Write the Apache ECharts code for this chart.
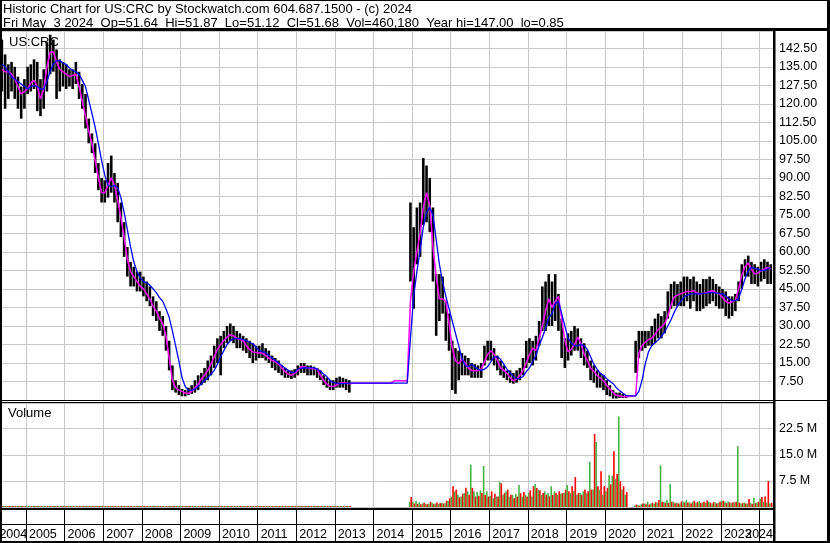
<!DOCTYPE html>
<html>
<head>
<meta charset="utf-8">
<title>Historic Chart for US:CRC</title>
<script src="https://cdn.jsdelivr.net/npm/echarts@6/dist/echarts.min.js"></script>
<style>
  html, body { margin: 0; padding: 0; background: #fff; overflow: hidden; }
  /* the chart canvas starts 20px left of the window so Jan 2004 can sit just off screen */
  #chart { position: absolute; left: -20px; top: 0; width: 850px; height: 543px; }
</style>
</head>
<body>
<div id="chart"></div>
<script>
// monthly figures, May 2004 .. Apr 2024 (one row per year)
const priceLow = [
  125, 118, 122, 125, 122, 118, 114, 118,
  124, 125, 126, 117, 115, 118, 125, 132, 133, 122, 125, 127,
  126, 127, 126, 128, 122, 118, 110, 104, 100, 92, 85, 80,
  80, 82, 84, 80, 72, 66, 58, 50, 46, 46, 44, 44,
  42, 40, 38, 34, 32, 28, 26, 20, 12, 4, 3, 2,
  1.5, 1.5, 2, 2.5, 3, 4, 6, 7, 8, 10, 13, 15,
  10, 21, 23, 24, 23, 21, 21, 20, 19, 17, 15, 16,
  17, 17, 16, 15, 13, 12, 11, 10, 9, 9, 8.5, 9,
  10, 11, 11, 10, 10, 10, 9, 8, 6, 5, 4, 4,
  5, 5, 5, 4, 3, null, null, null, null, null, null, null,
  null, null, null, null, null, null, null, null, null, null, null, 48,
  37, 55, 58, 71, 72, 68, 48, 26, 32, 35, 24, 20,
  4, 2.5, 8, 10, 10, 10, 9, 9, 9, 9, 14, 16,
  16, 14, 12, 10, 9, 8, 7, 6.6, 7, 8, 10, 13,
  15, 14, 16, 22, 28, 28, 30, 30, 32, 28, 17, 13,
  16, 18, 20, 20, 17, 14, 13, 8, 7, 5, 5, 4,
  2, 1.5, 0.6, 0.6, 0.8, 0.8, 0.8, null, null, 11, 17, 20,
  21, 22, 22, 23, 25, 25, 27, 33, 37, 38, 38, 38,
  38, 40, 37, 40, 36, 36, 37, 38, 39, 40, 38, 37,
  37, 34, 33, 34, 36, 40, 45, 50, 50, 47, 47, 46,
  48, 49, 47, 47
];
const priceHigh = [
  146, 140, 136, 137, 135, 131, 127, 130,
  135, 136, 138, 137, 130, 134, 145, 148, 146, 142, 138, 137,
  136, 134, 134, 137, 133, 128, 124, 114, 108, 104, 96, 90,
  89, 96, 99, 92, 88, 80, 72, 62, 56, 54, 52, 52,
  50, 48, 46, 42, 40, 36, 34, 30, 24, 14, 8, 6,
  4.5, 4, 5, 6, 8, 10, 11, 13, 16, 18, 22, 25,
  26, 28, 30, 31, 30, 28, 27, 26, 25, 24, 23, 22,
  22, 23, 21, 20, 18, 17, 16, 14, 13, 12, 12, 12.5,
  14, 15, 15, 14, 14, 13.5, 13, 12, 10, 9, 8, 8,
  9, 9.5, 9, 8.5, 8, null, null, null, null, null, null, null,
  null, null, null, null, null, null, null, null, null, null, null, 80,
  70, 78, 80, 98, 95, 90, 78, 51, 51, 50, 40, 35,
  24, 21, 20, 19, 18, 17, 15, 14.5, 14, 15, 22, 24,
  24, 21, 18, 16, 14, 12, 12, 11, 12, 13, 17, 24,
  25, 24, 26, 32, 46, 48, 51, 48, 51, 43, 33, 25,
  27, 28, 30, 29, 25, 23, 20, 16, 14, 12, 11, 10,
  8, 6, 4, 3, 3, 2.5, 2, null, null, 24, 28, 28,
  28, 28, 30, 33, 35, 34, 36, 44, 47, 48, 47, 48,
  50, 50, 49, 50, 48, 47, 49, 49, 50, 49, 47, 46,
  45, 44, 42, 42, 43, 48, 55, 57, 58.5, 56, 55, 54,
  56, 57, 56, 55
];
// short (magenta) and long (blue) moving averages as drawn
const maFast = [
  134, 133, 133, 132, 130, 127, 124, 125,
  126, 128.5, 129.5, 127, 122, 126, 135, 141, 141, 137, 134, 133,
  132, 131, 131.5, 132, 127, 121, 115, 109, 104, 97, 90, 84,
  84, 87, 90, 87, 81, 74, 66, 57, 52, 50, 48, 46,
  45, 43, 41, 38, 36, 33, 31, 26, 17, 8, 5, 4,
  3.5, 2.8, 2.6, 3.5, 5, 6.5, 8.5, 10, 12, 14.5, 17.5, 20.5,
  22.5, 24, 25.5, 26.5, 26, 25, 24.5, 24, 22, 20.5, 19.5, 19.2,
  19, 19, 18, 17, 16, 15.5, 14.5, 13, 11.5, 10.5, 10, 10.8,
  12, 13.5, 13.5, 13, 12.7, 12.7, 12.5, 10, 8, 6.5, 5.5, 5.5,
  6, 6.8, 7, 6.8, 6.6, 6.8, 6.8, 6.8, 6.8, 6.8, 6.8, 6.8,
  6.8, 6.8, 6.8, 6.8, 6.8, 6.8, 7.8, 7.8, 7.8, 7.8, 7.8, 40,
  52, 60, 67.5, 78, 84, 79, 62, 50, 41, 41, 40, 31,
  21, 16, 14.7, 16.5, 15, 13, 12, 11.9, 11.9, 12.5, 15.5, 18.5,
  20, 18.5, 16, 13, 12, 10.8, 9, 7.8, 8.5, 10, 12, 15,
  18.5, 21, 20, 25, 30, 36, 41, 37.5, 40, 42, 33, 24,
  19.5, 20.5, 22.5, 25.5, 23, 18.5, 16, 13, 11.5, 10, 8.8, 7.8,
  6, 4.5, 3, 1.9, 1.6, 1.4, 1.3, 1.4, 1.6, 1.7, 19, 22,
  23.5, 24.5, 25, 26.5, 28.5, 29.5, 31, 34, 38.5, 41.8, 42.5, 43,
  43.5, 44, 44, 44.3, 43.5, 43, 43.2, 43.5, 44, 44.3, 43.5, 43,
  41.5, 40, 39.3, 39.8, 40.5, 45, 50.5, 54, 55.5, 53, 51, 51.5,
  52.4, 53, 53.7, 53.2
];
const maSlow = [
  136, 135, 133, 131, 130, 129, 128, 127,
  126, 127, 127.5, 127, 126, 126, 129, 133, 136, 137.5, 137.5, 136.5,
  136, 134.5, 133.6, 133, 132, 129.5, 127, 121.5, 116, 110.5, 104, 97,
  91, 87, 86.5, 87, 86, 82, 76, 69, 62, 56, 52, 49.5,
  48, 47.5, 46.5, 45, 43.5, 41.5, 40, 37, 33.5, 28, 22, 16,
  9, 5.5, 3.8, 4, 4.5, 5.5, 6.5, 8, 9, 10.5, 12, 14.5,
  17.5, 20, 22.5, 24, 24.8, 25, 24.8, 24.5, 24, 23.5, 22.8, 21.5,
  20, 19.6, 19.2, 18, 17, 16, 15, 14, 13, 12, 11.2, 11.2,
  12.5, 12.8, 13, 13, 13, 13, 12.5, 11.8, 10.5, 9.5, 8, 7,
  6.8, 6.6, 6.6, 6.7, 6.8, 6.8, 6.8, 6.8, 6.8, 6.8, 6.8, 6.8,
  6.8, 6.8, 6.8, 6.8, 6.8, 6.8, 6.8, 6.8, 6.8, 6.8, 6.8, 25,
  42, 52, 60.5, 70, 76, 78, 75, 65, 55, 48, 42, 37,
  32, 27, 22, 17, 14, 13.5, 14.5, 13.5, 12.5, 12, 12.5, 13.5,
  15.5, 17.5, 17.5, 16.5, 14.5, 12.5, 11, 9.5, 8.6, 8.8, 9.5, 11.5,
  13, 15.5, 18, 22, 25.3, 29, 33.4, 35, 38.9, 40, 35, 30,
  25, 23, 22, 22, 22.5, 22, 20.5, 17.5, 14.5, 12.5, 10.8, 10,
  8.6, 7.6, 6.6, 5, 3.8, 2.8, 1.9, 1.7, 1.7, 1.7, 3.5, 8,
  14.7, 19.5, 22, 23.2, 24.3, 25.8, 27.5, 30, 32.5, 35.5, 38.2, 40,
  41.6, 42.5, 43, 43, 43, 43, 43.2, 43.3, 43.5, 43.5, 43.3, 43.2,
  43, 42, 41, 40.3, 40.3, 41, 45, 49, 52.5, 53.7, 53.3, 53,
  52.5, 52.4, 53, 53.7
];
// volume in millions: up-day (green) and down-day (red) bars
const volGreen = [
  0.3, 0.3, 0.3, 0.3, 0.3, 0.3, 0.3, 0.3,
  0.3, 0.3, 0.3, 0.3, 0.3, 0.3, 0.3, 0.3, 0.3, 0.3, 0.3, 0.3,
  0.3, 0.3, 0.3, 0.3, 0.3, 0.3, 0.3, 0.3, 0.3, 0.3, 0.3, 0.3,
  0.3, 0.3, 0.3, 0.3, 0.3, 0.3, 0.3, 0.3, 0.3, 0.3, 0.3, 0.3,
  0.3, 0.3, 0.3, 0.3, 0.3, 0.3, 0.3, 0.3, 0.3, 0.3, 0.3, 0.3,
  0.3, 0.3, 0.3, 0.3, 0.3, 0.3, 0.3, 0.3, 0.3, 0.3, 0.3, 0.3,
  0.3, 0.3, 0.3, 0.3, 0.3, 0.3, 0.3, 0.3, 0.3, 0.3, 0.3, 0.3,
  0.3, 0.3, 0.3, 0.3, 0.3, 0.3, 0.3, 0.3, 0.3, 0.3, 0.3, 0.3,
  0.3, 0.3, 0.3, 0.3, 0.3, 0.3, 0.3, 0.3, 0.3, 0.3, 0.3, 0.3,
  0.3, 0.3, 0.3, 0.3, 0.3, null, null, null, null, null, null, null,
  null, null, null, null, null, null, null, null, null, null, null, 1.5,
  1.6, 1.8, 1.4, 1.0, 0.9, 1.0, 1.2, 1.0, 0.9, 1.3, 1.1, 1.8,
  3.0, 4.5, 3.5, 3.0, 4.0, 4.5, 12.2, 4.5, 4.3, 4.8, 11.8, 4.5,
  3.2, 2.5, 3.0, 7.2, 3.5, 4.5, 3.0, 3.5, 3.8, 6.3, 3.0, 3.5,
  4.0, 3.0, 6.6, 5.0, 3.5, 4.5, 4.0, 6.0, 4.5, 3.5, 3.8, 4.0,
  6.3, 4.0, 4.5, 3.5, 4.0, 4.5, 4.0, 13.0, 5.0, 18.7, 5.0, 3.5,
  4.5, 9.2, 9.0, 8.0, 26.0, 5.0, 3.5, null, null, 0.5, 0.6, 0.8,
  1.0, 1.5, 1.0, 0.9, 1.2, 12.0, 1.5, 2.0, 6.6, 1.5, 1.3, 1.0,
  1.5, 2.0, 1.3, 1.5, 1.2, 1.7, 1.3, 1.2, 1.5, 1.0, 1.3, 1.2,
  1.8, 1.5, 1.6, 1.1, 1.3, 17.5, 1.0, 1.3, 1.0, 1.2, 2.6, 1.3,
  2.4, 1.5, 1.3, 1.0
];
const volRed = [
  0.3, 0.3, 0.3, 0.3, 0.3, 0.3, 0.3, 0.3,
  0.3, 0.3, 0.3, 0.3, 0.3, 0.3, 0.3, 0.3, 0.3, 0.3, 0.3, 0.3,
  0.3, 0.3, 0.3, 0.3, 0.3, 0.3, 0.3, 0.3, 0.3, 0.3, 0.3, 0.3,
  0.3, 0.3, 0.3, 0.3, 0.3, 0.3, 0.3, 0.3, 0.3, 0.3, 0.3, 0.3,
  0.3, 0.3, 0.3, 0.3, 0.3, 0.3, 0.3, 0.3, 0.3, 0.3, 0.3, 0.3,
  0.3, 0.3, 0.3, 0.3, 0.3, 0.3, 0.3, 0.3, 0.3, 0.3, 0.3, 0.3,
  0.3, 0.3, 0.3, 0.3, 0.3, 0.3, 0.3, 0.3, 0.3, 0.3, 0.3, 0.3,
  0.3, 0.3, 0.3, 0.3, 0.3, 0.3, 0.3, 0.3, 0.3, 0.3, 0.3, 0.3,
  0.3, 0.3, 0.3, 0.3, 0.3, 0.3, 0.3, 0.3, 0.3, 0.3, 0.3, 0.3,
  0.3, 0.3, 0.3, 0.3, 0.3, null, null, null, null, null, null, null,
  null, null, null, null, null, null, null, null, null, null, null, 2.9,
  1.0, 0.9, 0.8, 1.2, 0.8, 1.5, 0.8, 1.3, 1.1, 1.0, 1.8, 2.5,
  6.0, 5.0, 2.8, 3.8, 5.5, 3.5, 5.5, 3.0, 3.2, 4.0, 3.5, 3.0,
  4.5, 3.8, 3.0, 6.8, 4.0, 5.0, 3.5, 2.5, 3.0, 4.0, 4.3, 3.0,
  4.8, 6.0, 5.5, 4.8, 4.0, 3.5, 3.0, 3.5, 4.0, 4.5, 4.0, 5.0,
  4.5, 6.0, 8.6, 4.0, 3.5, 5.0, 4.5, 5.0, 21.0, 6.0, 10.3, 6.0,
  5.5, 6.5, 16.0, 9.5, 7.4, 6.0, 4.3, null, null, 0.7, 0.4, 1.0,
  0.8, 0.7, 1.2, 1.4, 2.0, 1.5, 1.2, 1.2, 1.5, 1.1, 1.0, 1.6,
  1.2, 1.3, 1.0, 1.8, 1.4, 1.2, 1.5, 1.9, 1.2, 1.4, 1.0, 1.5,
  1.8, 1.1, 1.3, 1.4, 1.5, 1.2, 1.1, 1.0, 2.3, 0.9, 1.1, 1.5,
  2.9, 3.0, 7.5, 1.2
];

const headerText = 'Historic Chart for US:CRC by Stockwatch.com 604.687.1500 - (c) 2024\n' +
  'Fri May  3 2024  Op=51.64  Hi=51.87  Lo=51.12  Cl=51.68  Vol=460,180  Year hi=147.00  lo=0.85';

const FONT = 'Liberation Sans, Arial, sans-serif';
const SHIFT = 20;          // canvas starts this far left of the window
const X_MIN = 2004;
const X_MAX = 2024.35;     // right edge of the plot (early May 2024)
const GRID_LEFT = SHIFT - 12.6;
const GRID_RIGHT = 57;

// month i -> decimal year at mid-month, starting May 2004
const xs = priceLow.map((_, i) => 2004 + (4.5 + i) / 12);

const barData = [];
const volData = [];
xs.forEach((x, i) => {
  if (priceLow[i] != null) barData.push([x, priceLow[i], priceHigh[i]]);
  if (volGreen[i] != null) volData.push([x, volGreen[i] * 1e6, volRed[i] * 1e6]);
});
const fastData = xs.map((x, i) => [x, maFast[i]]);
const slowData = xs.map((x, i) => [x, maSlow[i]]);

const chart = echarts.init(document.getElementById('chart'));

function yearAxis(gridIndex, splitColor, withLabels) {
  return {
    type: 'value',
    gridIndex: gridIndex,
    min: X_MIN,
    max: X_MAX,
    interval: 1,
    axisLine: { show: false },
    axisTick: { show: false },
    splitLine: { show: true, lineStyle: { color: splitColor, width: 1 } },
    axisLabel: withLabels ? {
      show: true,
      inside: true,
      margin: 2,
      align: 'left',
      alignMaxLabel: 'right',
      padding: [0, 0, 0, 3],
      fontFamily: FONT,
      fontSize: 12.5,
      color: '#000',
      formatter: function (v) {
        if (Math.abs(v - X_MAX) < 1e-6) return String(Math.floor(v));
        if (Math.abs(v - Math.round(v)) > 1e-6) return '';
        if (v + 1 > X_MAX) return '';
        if (v === X_MIN) return '{first|' + v + '}';
        return String(v);
      },
      rich: { first: { padding: [0, 0, 0, 9], fontFamily: FONT, fontSize: 12.5, color: '#000' } }
    } : { show: false }
  };
}

// black rules of the frame, in window pixels: [x, y, width, height]
const frame = [
  [0, 0, 830, 1],
  [0, 0, 2, 543],
  [827, 0, 3, 543],
  [0, 541, 830, 2],
  [0, 28, 830, 3],
  [773, 31, 2.5, 512],
  [0, 400, 830, 1],
  [0, 402, 775, 1],
  [0, 508, 775, 2]
];

const titleStyle = { fontFamily: FONT, fontSize: 13, fontWeight: 'normal', color: '#000', lineHeight: 14 };

const option = {
  animation: false,
  backgroundColor: '#fff',
  title: [
    { text: headerText, left: SHIFT + 3, top: 2, padding: 0, textStyle: titleStyle },
    { text: 'US:CRC', left: SHIFT + 9, top: 35, padding: 0, textStyle: titleStyle },
    { text: 'Volume', left: SHIFT + 8, top: 406, padding: 0, textStyle: titleStyle }
  ],
  grid: [
    { left: GRID_LEFT, right: GRID_RIGHT, top: 31, height: 369, outerBoundsMode: 'none' },
    { left: GRID_LEFT, right: GRID_RIGHT, top: 403, height: 104, outerBoundsMode: 'none' },
    { left: GRID_LEFT, right: GRID_RIGHT, top: 509, height: 34, outerBoundsMode: 'none' }
  ],
  xAxis: [
    yearAxis(0, '#c8c8c8', false),
    yearAxis(1, '#c8c8c8', false),
    yearAxis(2, '#000', true)
  ],
  yAxis: [
    {
      type: 'value', gridIndex: 0, position: 'right',
      min: 0, max: 149.5, interval: 7.5,
      axisLine: { show: false }, axisTick: { show: false },
      splitLine: { lineStyle: { color: '#c8c8c8' } },
      axisLabel: {
        margin: 6, showMinLabel: false, showMaxLabel: false,
        fontFamily: FONT, fontSize: 12.5, color: '#000',
        formatter: v => v.toFixed(2)
      }
    },
    {
      type: 'value', gridIndex: 1, position: 'right',
      min: 0, max: 29.9e6, interval: 7.5e6,
      axisLine: { show: false }, axisTick: { show: false },
      splitLine: { lineStyle: { color: '#c8c8c8' } },
      axisLabel: {
        margin: 6, showMinLabel: false, showMaxLabel: false,
        fontFamily: FONT, fontSize: 12.5, color: '#000',
        formatter: v => (v / 1e6).toFixed(1) + ' M'
      }
    },
    {
      type: 'value', gridIndex: 2, position: 'right',
      min: 0, max: 34, interval: 19,
      axisLine: { show: false }, axisTick: { show: false },
      axisLabel: { show: false },
      splitLine: { lineStyle: { color: '#000' } }
    }
  ],
  series: [
    {
      name: 'Price',
      type: 'custom',
      xAxisIndex: 0, yAxisIndex: 0,
      data: barData,
      encode: { x: 0, y: [1, 2] },
      z: 2,
      renderItem: function (params, api) {
        const x = api.value(0);
        const top = api.coord([x, api.value(2)]);
        const bottom = api.coord([x, api.value(1)]);
        const w = api.size([1 / 12, 0])[0] * 0.8;
        return {
          type: 'rect',
          shape: { x: top[0] - w / 2, y: top[1], width: w, height: Math.max(1, bottom[1] - top[1]) },
          style: { fill: '#000' }
        };
      }
    },
    {
      name: 'Short MA', type: 'line', xAxisIndex: 0, yAxisIndex: 0,
      data: fastData, showSymbol: false, symbol: 'none', z: 3,
      lineStyle: { color: '#ff00ff', width: 1.5 }
    },
    {
      name: 'Long MA', type: 'line', xAxisIndex: 0, yAxisIndex: 0,
      data: slowData, showSymbol: false, symbol: 'none', z: 4,
      lineStyle: { color: '#0000ff', width: 1.3 }
    },
    {
      name: 'Volume',
      type: 'custom',
      xAxisIndex: 1, yAxisIndex: 1,
      data: volData,
      encode: { x: 0, y: [1, 2] },
      renderItem: function (params, api) {
        const x = api.value(0);
        const base = api.coord([x, 0]);
        const g = api.coord([x, api.value(1)]);
        const r = api.coord([x, api.value(2)]);
        const w = api.size([1 / 12, 0])[0] / 2;
        return {
          type: 'group',
          children: [
            { type: 'rect', shape: { x: base[0] - w, y: g[1], width: w, height: base[1] - g[1] }, style: { fill: '#47b347' } },
            { type: 'rect', shape: { x: base[0], y: r[1], width: w, height: base[1] - r[1] }, style: { fill: '#ff0000' } }
          ]
        };
      }
    }
  ],
  graphic: frame.map(([x, y, w, h]) => ({
    type: 'rect', z: 100, silent: true,
    shape: { x: x + SHIFT, y: y, width: w, height: h },
    style: { fill: '#000' }
  }))
};

chart.setOption(option);
</script>
</body>
</html>
